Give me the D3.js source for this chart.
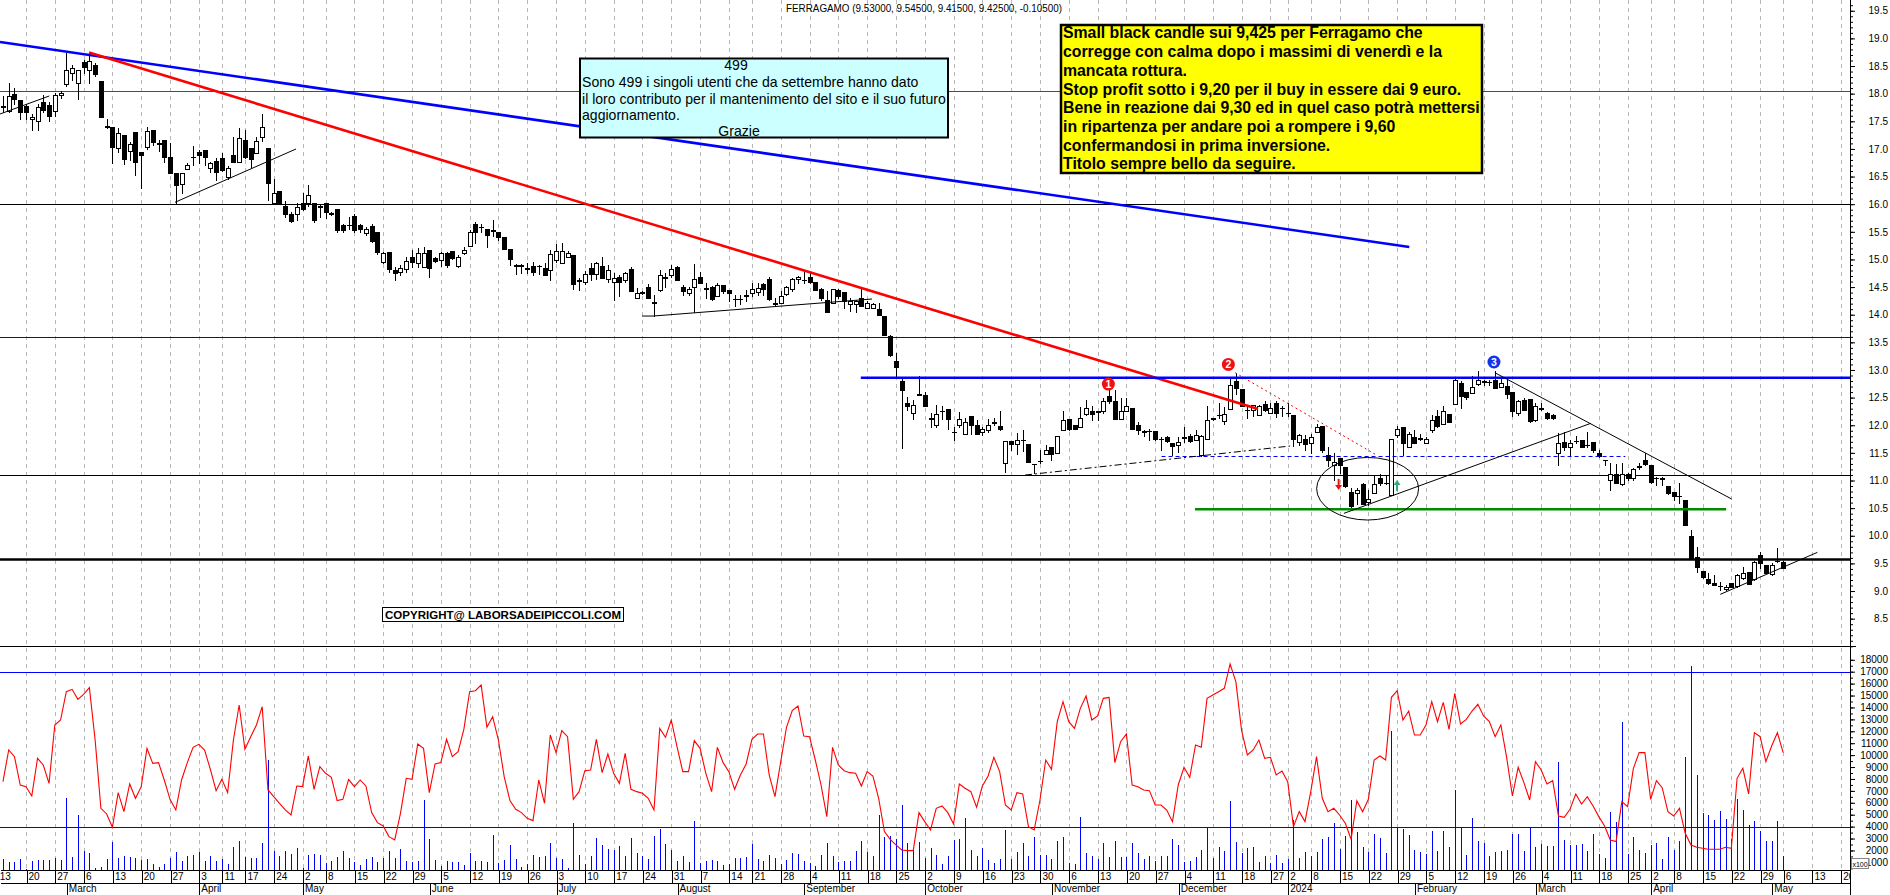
<!DOCTYPE html>
<html>
<head>
<meta charset="utf-8">
<script src="https://cdn.jsdelivr.net/npm/d3@7/dist/d3.min.js"></script>
<style>
html,body{margin:0;padding:0;background:#fff;}
svg{display:block;}
text{font-family:"Liberation Sans",Arial,Helvetica,sans-serif;}
</style>
</head>
<body>
<svg id="chart" width="1890" height="895"></svg>
<script>
// ================= DATA =================
const title = "FERRAGAMO (9.53000, 9.54500, 9.41500, 9.42500, -0.10500)";
const calendarStart = "2023-02-13";           // first calendar day (index -5)
const holidays = ["2023-04-07","2023-04-10","2023-05-01","2023-08-15","2023-12-25","2023-12-26",
                  "2024-01-01","2024-03-29","2024-04-01","2024-05-01"];
const firstCandleIndex = -4;                  // 14 Feb 2023

const opens = [
17.77,17.69,17.99,17.89,17.77,17.54,17.51,17.84,17.79,17.69,
17.98,18.17,18.37,18.20,18.58,18.43,18.52,18.22,17.41,17.39,
17.01,17.26,16.97,17.30,16.94,17.04,17.34,17.11,17.16,16.85,
16.56,16.37,16.63,16.85,16.94,16.98,16.66,16.78,16.84,16.50,
16.89,16.77,17.16,17.01,16.92,17.22,17.01,16.02,16.24,15.97,
15.82,15.82,16.02,16.02,16.02,15.96,16.02,15.84,15.91,15.62,
15.62,15.79,15.62,15.47,15.61,15.49,14.96,15.13,14.81,14.78,
14.82,15.05,14.93,14.87,15.17,15.03,14.99,15.12,15.15,14.88,
15.11,15.25,15.64,15.58,15.55,15.52,15.49,15.40,15.19,14.89,
14.90,14.84,14.89,14.88,14.84,14.80,14.99,14.93,15.04,15.08,
14.61,14.59,14.84,14.74,14.88,14.65,14.60,14.69,14.62,14.82,
14.31,14.40,14.51,14.22,14.45,14.67,14.71,14.87,14.51,14.39,
14.51,14.68,14.47,14.51,14.34,14.53,14.45,14.29,14.28,14.33,
14.39,14.41,14.55,14.65,14.21,14.22,14.37,14.46,14.65,14.63,
14.69,14.60,14.47,14.27,14.22,14.45,14.41,14.19,14.19,14.31,
14.13,14.13,14.10,13.98,13.61,13.16,12.80,12.41,12.22,12.55,
12.55,12.14,12.00,12.25,12.29,11.88,12.00,11.85,12.17,12.00,
11.87,11.92,12.05,11.99,11.32,11.71,11.66,11.73,11.66,11.29,
11.35,11.48,11.61,11.49,11.91,12.12,12.00,11.97,12.20,12.25,
12.24,12.26,12.53,12.44,12.11,12.26,12.31,12.00,11.88,11.90,
11.89,11.75,11.79,11.67,11.65,11.77,11.80,11.74,11.46,11.76,
12.12,12.18,12.08,12.29,12.80,12.65,12.27,12.28,12.19,12.38,
12.23,12.41,12.31,12.22,12.19,11.70,11.75,11.67,11.88,11.99,
11.46,11.28,11.40,11.25,10.79,10.77,10.93,10.62,10.77,11.04,
10.95,10.74,11.82,11.97,11.61,11.79,11.76,11.68,11.91,12.16,
12.03,12.20,12.38,12.76,12.61,12.58,12.74,12.80,12.79,12.82,
12.69,12.71,12.61,12.22,12.46,12.48,12.09,12.30,12.22,12.19,
11.50,11.70,11.61,11.72,11.73,11.64,11.70,11.50,11.37,11.01,
11.12,10.94,11.12,11.04,11.25,11.38,11.28,11.04,11.04,10.90,
10.80,10.72,10.65,10.00,9.61,9.36,9.21,9.15,9.10,9.04,
9.14,9.09,9.23,9.34,9.21,9.65,9.47,9.31,9.54,9.53];

const highs = [
17.96,18.20,18.10,17.89,17.82,17.64,17.82,17.98,17.85,18.01,
18.04,18.73,18.52,18.43,18.61,18.73,18.55,18.22,17.55,17.39,
17.37,17.26,17.13,17.30,16.94,17.39,17.34,17.16,17.16,17.10,
16.56,16.56,16.75,17.05,16.98,16.98,16.77,16.84,16.93,16.69,
17.22,17.37,17.34,17.01,17.22,17.64,17.01,16.45,16.24,16.06,
15.86,16.02,16.20,16.35,16.02,15.99,16.02,15.86,15.91,15.65,
15.77,15.83,15.64,15.59,15.64,15.49,15.14,15.13,14.87,14.90,
15.05,15.17,15.20,15.23,15.17,15.05,15.14,15.14,15.16,15.08,
15.23,15.53,15.67,15.65,15.55,15.71,15.50,15.41,15.19,14.92,
14.92,14.93,14.96,14.90,14.93,15.17,15.28,15.30,15.16,15.08,
14.66,14.79,14.93,14.96,15.05,14.90,14.75,14.72,14.78,14.87,
14.48,14.43,14.55,14.36,14.81,14.75,14.90,14.88,14.54,14.51,
14.91,14.78,14.57,14.52,14.57,14.53,14.45,14.36,14.36,14.45,
14.57,14.57,14.57,14.68,14.31,14.42,14.52,14.66,14.70,14.78,
14.78,14.60,14.48,14.42,14.46,14.46,14.41,14.30,14.27,14.48,
14.25,14.21,14.21,13.98,13.63,13.30,12.83,12.52,12.46,12.89,
12.61,12.22,12.37,12.35,12.29,11.97,12.24,12.13,12.17,12.09,
11.97,12.12,12.14,12.25,11.71,11.71,11.86,11.91,11.66,11.30,
11.55,11.65,11.61,11.81,12.25,12.12,12.00,12.33,12.46,12.35,
12.26,12.49,12.64,12.64,12.49,12.49,12.31,12.05,11.92,11.94,
11.89,11.78,11.80,11.67,11.79,11.96,11.85,11.91,11.82,12.35,
12.14,12.40,12.33,12.83,12.94,12.65,12.33,12.37,12.37,12.43,
12.40,12.43,12.34,12.40,12.19,11.85,11.82,11.85,12.03,11.99,
11.61,11.49,11.40,11.25,10.86,10.86,10.95,10.83,11.10,11.12,
11.10,11.76,11.99,11.97,11.88,11.91,11.85,11.78,12.19,12.28,
12.35,12.20,12.86,12.80,12.61,12.90,12.98,12.82,12.81,12.98,
12.86,12.82,12.61,12.46,12.49,12.48,12.40,12.40,12.24,12.20,
11.86,11.88,11.73,11.81,11.73,11.88,11.70,11.55,11.37,11.31,
11.29,11.32,11.13,11.22,11.31,11.50,11.28,11.07,11.07,10.90,
10.80,10.95,10.65,10.10,9.79,9.37,9.33,9.29,9.17,9.11,
9.15,9.31,9.44,9.34,9.55,9.71,9.47,9.50,9.77,9.545];

const lows = [
17.67,17.67,17.82,17.55,17.55,17.34,17.34,17.67,17.51,17.60,
17.93,18.13,18.25,17.90,18.37,18.19,18.32,17.57,17.37,16.75,
16.95,16.72,16.80,16.52,16.30,16.99,17.07,16.96,16.77,16.56,
16.02,16.21,16.63,16.70,16.74,16.70,16.59,16.43,16.60,16.45,
16.77,16.77,16.83,16.68,16.92,17.15,16.08,16.02,16.02,15.77,
15.68,15.71,15.89,15.96,15.68,15.77,15.75,15.80,15.50,15.50,
15.55,15.50,15.50,15.45,15.32,15.10,14.93,14.78,14.63,14.72,
14.78,14.87,14.87,14.87,14.69,14.96,14.88,14.87,15.00,14.86,
15.10,15.25,15.30,15.50,15.23,15.42,15.36,15.19,14.90,14.74,
14.76,14.76,14.72,14.73,14.71,14.63,14.96,14.93,15.04,14.47,
14.45,14.55,14.63,14.64,14.67,14.60,14.27,14.33,14.60,14.42,
14.31,14.38,14.31,13.98,14.43,14.51,14.69,14.63,14.36,14.36,
14.04,14.57,14.31,14.27,14.33,14.39,14.24,14.15,14.19,14.24,
14.33,14.36,14.36,14.27,14.16,14.21,14.36,14.43,14.57,14.57,
14.57,14.45,14.27,14.04,14.21,14.31,14.12,14.06,14.04,14.15,
14.13,14.13,14.00,13.63,13.25,12.89,11.58,12.27,12.12,12.54,
12.35,11.96,11.97,12.12,11.94,11.73,11.97,11.85,11.85,11.85,
11.82,11.88,12.00,11.92,11.16,11.55,11.48,11.54,11.34,11.13,
11.32,11.48,11.37,11.49,11.91,11.92,11.93,11.97,12.19,12.09,
12.09,12.22,12.40,12.11,12.11,12.25,11.93,11.85,11.80,11.73,
11.73,11.55,11.69,11.46,11.52,11.70,11.70,11.73,11.44,11.76,
12.10,12.14,12.02,12.29,12.56,12.35,12.14,12.16,12.18,12.25,
12.22,12.15,12.17,12.16,11.62,11.64,11.55,11.49,11.88,11.52,
11.26,11.01,11.13,10.88,10.50,10.57,10.57,10.56,10.77,10.92,
10.94,10.74,11.79,11.46,11.61,11.67,11.73,11.68,11.88,11.97,
12.03,12.05,12.38,12.31,12.47,12.58,12.73,12.73,12.73,12.67,
12.69,12.49,12.17,12.19,12.28,12.06,12.08,12.28,12.12,12.12,
11.28,11.56,11.46,11.67,11.60,11.61,11.52,11.43,11.28,10.83,
10.95,10.92,11.01,11.01,11.20,11.28,10.96,10.92,10.92,10.76,
10.65,10.59,10.19,9.59,9.35,9.24,9.13,9.11,9.02,9.01,
9.07,9.08,9.21,9.13,9.20,9.41,9.32,9.29,9.53,9.415];

const closes = [
17.76,17.96,17.91,17.67,17.66,17.57,17.75,17.70,17.60,17.98,
18.02,18.43,18.46,18.43,18.48,18.59,18.35,17.57,17.40,17.03,
17.29,16.81,17.08,16.77,16.89,17.32,17.12,17.09,16.85,16.56,
16.34,16.56,16.70,16.86,16.89,16.85,16.74,16.58,16.62,16.65,
16.77,17.19,16.86,16.82,17.14,17.39,16.38,16.21,16.02,15.83,
15.70,15.94,15.91,16.17,15.72,15.95,15.86,15.83,15.53,15.53,
15.63,15.53,15.55,15.55,15.34,15.14,15.11,14.82,14.75,14.84,
14.98,14.96,15.11,15.11,14.84,14.97,15.12,14.90,15.02,15.04,
15.17,15.50,15.50,15.59,15.45,15.53,15.40,15.19,15.01,14.90,
14.89,14.83,14.78,14.89,14.72,15.10,15.15,15.15,15.11,14.56,
14.62,14.73,14.74,14.93,14.67,14.80,14.66,14.60,14.76,14.43,
14.40,14.41,14.31,14.23,14.71,14.68,14.82,14.63,14.43,14.46,
14.64,14.58,14.48,14.29,14.54,14.43,14.39,14.28,14.29,14.36,
14.47,14.48,14.46,14.28,14.20,14.33,14.51,14.64,14.69,14.62,
14.59,14.45,14.30,14.04,14.46,14.34,14.24,14.24,14.24,14.16,
14.22,14.19,14.00,13.63,13.28,13.06,12.63,12.35,12.37,12.56,
12.35,12.11,12.21,12.26,12.12,11.87,12.11,12.05,12.00,11.85,
11.93,12.00,12.04,11.94,11.71,11.66,11.73,11.74,11.34,11.30,
11.36,11.55,11.48,11.81,12.09,11.94,11.94,12.14,12.32,12.21,
12.25,12.43,12.44,12.11,12.26,12.35,11.93,11.92,11.89,11.89,
11.76,11.76,11.71,11.62,11.70,11.78,11.71,11.82,11.80,12.09,
12.13,12.19,12.20,12.73,12.67,12.35,12.28,12.37,12.35,12.28,
12.31,12.22,12.32,12.23,11.76,11.82,11.66,11.78,11.96,11.55,
11.37,11.34,11.28,10.90,10.53,10.83,10.57,10.66,10.93,10.96,
10.95,11.76,11.94,11.67,11.85,11.68,11.77,11.76,12.09,11.99,
12.25,12.06,12.82,12.53,12.52,12.70,12.82,12.79,12.78,12.67,
12.77,12.57,12.25,12.43,12.28,12.08,12.34,12.31,12.13,12.13,
11.68,11.61,11.67,11.72,11.61,11.64,11.55,11.44,11.37,11.12,
10.95,11.12,11.04,11.20,11.26,11.29,10.98,11.04,11.03,10.77,
10.72,10.72,10.19,9.59,9.44,9.26,9.14,9.11,9.10,9.08,
9.08,9.29,9.32,9.13,9.53,9.50,9.33,9.47,9.55,9.425];

const volumes = [
1287,1064,1064,1287,421,1120,1203,1203,1203,1399,
1203,6432,1455,5006,1958,1819,560,644,1287,2742,
1399,1538,1455,1399,1203,1287,868,644,868,1399,
1902,1148,1538,1622,1902,1148,1538,1148,1287,868,
2294,2797,1455,1399,1399,2658,9591,1986,1538,1958,
1706,2182,560,1622,1706,1595,924,1092,1455,1958,
1343,1064,784,1287,1455,1064,1343,1958,1399,2126,
1120,1008,1092,6237,2965,1203,700,1120,1008,1064,
784,1819,1148,1148,1064,3301,980,1203,2462,1287,
616,840,1622,1455,1538,2658,1399,1287,560,4335,
1622,868,1538,3021,2462,2126,2042,2378,1538,3077,
1763,
1538,1287,3217,3804,2545,2042,1120,1538,1036,4475,
980,1120,1203,1120,756,868,1343,1343,1455,2545,
1287,1120,1595,1343,868,1203,1790,1706,1120,980,
672,1622,2630,1538,1036,1148,1148,1958,2797,1874,
1538,5006,3133,3217,2965,5845,2602,2042,2713,1343,
2210,1622,868,1538,2909,2965,4726,2042,1538,2210,
1203,952,1287,3720,1287,1874,2630,1538,3133,1622,
1622,1287,2797,3133,952,868,4810,1790,1538,1287,
2630,1455,2797,1455,1455,2630,1790,1287,1538,1120,
1538,1538,2965,2462,1036,1120,1455,2042,3888,1371,
2294,1958,6152,2713,1790,2210,
2266,1064,1538,980,1622,980,1287,4559,1343,1874,
1538,1874,2937,3105,4307,2126,3245,6237,3552,2266,
1874,3384,3049,1790,12052,3860,3804,3301,2042,1874,
1706,3636,1958,3636,2294,7075,4000,1622,4726,2797,
2630,1538,1874,1958,2042,3384,3384,1958,4000,2266,
2545,2378,2378,9424,2881,2462,2462,2545,1958,3384,
1706,1371,5229,4391,12807,1706,3133,2042,1790,2462,
2630,1287,3133,2042,2797,9871,17476,8333,5146,5006,
4559,5314,4642,2965,6320,5397,4139,4475,3636,2797,
2797,4475,
1500];

const oscillator = [
7774,10430,9871,7494,7354,6572,9731,9172,7634,12527,
12947,15323,15519,14680,15100,15659,11269,5537,5063,3943,
6851,5258,7578,6376,7354,10570,9312,9368,7914,6292,
5397,7914,9368,10654,10905,10430,8808,7019,7970,6851,
11269,14205,10486,11548,12527,14065,7075,6516,5957,5397,
4978,7410,7354,9927,7131,9032,8473,8137,6180,6292,
7970,7354,7914,7410,5174,4335,4055,3161,2881,5118,
8053,7970,10933,10570,6851,9256,9368,11325,9871,10290,
12164,15323,15407,15882,12331,13226,11269,8193,6180,5453,
5174,4698,4503,7914,5957,11688,10206,12052,11548,6292,
6935,8697,8753,11325,8529,10095,8473,7634,10150,7131,
6935,6795,6376,5397,12248,11493,12947,10710,8613,8613,
11213,10570,8473,6935,10654,9368,8613,7131,8333,9256,
11325,11772,11772,8333,6516,9451,12331,13729,14121,11604,
11548,9591,7494,4839,10654,9172,8697,8529,8473,7410,
8613,8249,6376,3580,2937,2462,2042,1986,1986,5174,
4419,3720,5537,5733,5174,4223,7578,7215,6935,5621,
7410,8249,9815,8613,5817,5397,6851,6739,4000,3720,
6236,9591,8808,12807,14484,12807,12248,13925,14960,12947,
13282,14764,14848,9368,11129,11772,7494,7354,7075,7019,
5817,5817,5397,4419,7494,8976,8137,10850,10654,14764,
15044,15323,15603,17644,16162,12052,10011,10430,11269,9731,
9815,8333,8669,7774,4000,5258,4419,6935,9871,6376,
5258,5537,4978,4279,2937,6180,5258,6292,9591,9927,
9591,14848,15407,12947,13701,11688,11688,12527,14484,12807,
14428,12164,15184,12611,13003,13701,14261,13282,12807,11548,
12527,9815,6572,8976,7690,6236,9451,8753,7578,7858,
4895,4782,5453,6739,5901,6516,5733,4839,4055,2881,
2741,6096,5677,8892,10206,10206,6292,7858,7271,5258,
4895,5537,3440,2462,2266,2182,2098,2098,2098,2266,
2182,8053,8892,6739,11884,11548,9451,10766,11884,10206];

const priceTicks = [8.5,9,9.5,10,10.5,11,11.5,12,12.5,13,13.5,14,14.5,15,15.5,16,16.5,17,17.5,18,18.5,19,19.5];
const volumeTicks = [1000,2000,3000,4000,5000,6000,7000,8000,9000,10000,11000,12000,13000,14000,15000,16000,17000,18000];
const monthNames = ["January","February","March","April","May","June","July","August","September","October","November","December"];

// horizontal levels (price) spanning the full width
const redLevel = 18.05, blackLevelTop = 16.0, blueLevelThin = 13.6, blackLevelMid = 11.1, blackLevelThick = 9.58;
// partial horizontal levels: [fromIndex, toIndex, price]
const blueResistance = [144.9, 316.6, 12.86];
const greenSupport = [202.9, 295.1, 10.48];
const blueDashed = [197.1, 277.6, 11.45];
// volume-panel levels
const volumeLevels = [17000, 4000];
// trendlines as [index, price] pairs
const blueTrend = [[-4.51, 18.935], [240.1, 15.225]];
const redTrend = [[10.94, 18.745], [213.85, 12.294]];
const redDotted = [[209.86, 12.95], [234.42, 11.461]];
const blackLines = [
  [[-4.51, 17.632], [4.04, 17.958]],
  [[25.86, 16.034], [46.87, 16.999]],
  [[106.93, 13.976], [108.84, 13.976], [146.85, 14.284]],
  [[228.76, 10.406], [271.62, 12.035]],
  [[254.97, 12.95], [296.06, 10.665]],
  [[294.08, 8.94], [310.94, 9.70]]
];
const dashDotLine = [[173.41, 11.099], [219.41, 11.624]];
const ellipseCenter = [232.87, 10.851];
const ellipseHalfSpan = [8.85, 0.566];      // in index units / price units
const markers = [
  {label: "1", i: 187.87, p: 12.745, color: "#ee1111"},
  {label: "2", i: 208.7,  p: 13.10,  color: "#ee1111"},
  {label: "3", i: 254.8,  p: 13.144, color: "#1133ee"}
];
const arrows = [
  {dir: "down", i: 227.84, p: 10.92, color: "#ee1111"},
  {dir: "up",   i: 237.98, p: 10.92, color: "#33aa77"}
];

const cyanLines = ["Sono 499 i singoli utenti che da settembre hanno dato",
                   "il loro contributo per il mantenimento del sito e il suo futuro",
                   "aggiornamento."];
const cyanTitle = "499", cyanFooter = "Grazie";
const yellowLines = ["Small black candle sui 9,425 per Ferragamo che",
  "corregge con calma dopo i massimi di venerdì e la",
  "mancata rottura.",
  "Stop profit sotto i 9,20 per il buy in essere dai 9 euro.",
  "Bene in reazione dai 9,30 ed in quel caso potrà mettersi",
  "in ripartenza per andare poi a rompere i 9,60",
  "confermandosi in prima inversione.",
  "Titolo sempre bello da seguire."];
const copyrightText = "COPYRIGHT@ LABORSADEIPICCOLI.COM";

// ================= LAYOUT =================
const AXIS_X = 1850;
const SEP_Y = 646;
const XAXIS_Y = 870;
const svg = d3.select("#chart");

const x = d3.scaleLinear().domain([-4.513, 316.6]).range([0, AXIS_X]);
const yP = d3.scaleLinear().domain([8, 19.7]).range([646.3, -0.3]);
const yV = d3.scaleLinear().domain([0, 17000]).range([874.3, 671.7]);

// calendar of trading days
const hol = new Set(holidays);
const days = [];
{
  const d = new Date(calendarStart + "T00:00:00Z");
  while (days.length < 325) {
    const wd = d.getUTCDay(), s = d.toISOString().slice(0, 10);
    if (wd !== 0 && wd !== 6 && !hol.has(s)) days.push(new Date(d));
    d.setUTCDate(d.getUTCDate() + 1);
  }
}
const OFF = 5; // days[k] has index k-5
const weekTicks = [], monthTicks = [];
days.forEach((d, k) => {
  if (k === 0 || d.getUTCDay() < days[k - 1].getUTCDay()) weekTicks.push(k - OFF);
  if (k > 0 && d.getUTCMonth() !== days[k - 1].getUTCMonth()) monthTicks.push(k - OFF);
});
const dayOf = i => days[i + OFF];

const candles = opens.map((o, j) => ({i: j + firstCandleIndex, o, h: highs[j], l: lows[j], c: closes[j]}));

const defs = svg.append("defs");
defs.append("clipPath").attr("id", "clipPrice").append("rect").attr("x", 0).attr("y", 0).attr("width", AXIS_X).attr("height", SEP_Y);
defs.append("clipPath").attr("id", "clipVol").append("rect").attr("x", 0).attr("y", SEP_Y).attr("width", AXIS_X).attr("height", XAXIS_Y - SEP_Y);
defs.append("clipPath").attr("id", "clipPlot").append("rect").attr("x", 0).attr("y", 0).attr("width", AXIS_X).attr("height", 895);

svg.append("rect").attr("width", 1890).attr("height", 895).attr("fill", "#fff");

const px = i => Math.round(x(i)) + 0.5;

// ---- vertical gridlines
svg.append("g").attr("clip-path", "url(#clipPlot)")
  .selectAll("line").data(weekTicks).join("line")
  .attr("x1", px).attr("x2", px).attr("y1", 0).attr("y2", XAXIS_Y)
  .attr("stroke", "#b8b8b8").attr("stroke-width", 1).attr("stroke-dasharray", "4,4")
  .attr("shape-rendering", "crispEdges");

// ---- price panel
const gP = svg.append("g").attr("clip-path", "url(#clipPrice)");
const hFull = [
  {p: redLevel, c: "#ff0000", w: 1},
  {p: blackLevelTop, c: "#000", w: 1},
  {p: blueLevelThin, c: "#0000ff", w: 1},
  {p: blackLevelMid, c: "#000", w: 1},
  {p: blackLevelThick, c: "#000", w: 2.5}
];
gP.selectAll("line.hl").data(hFull).join("line").attr("class", "hl")
  .attr("x1", 0).attr("x2", AXIS_X).attr("y1", d => Math.round(yP(d.p)) + 0.5).attr("y2", d => Math.round(yP(d.p)) + 0.5)
  .attr("stroke", d => d.c).attr("stroke-width", d => d.w);

// candles
const gC = gP.append("g").attr("shape-rendering", "crispEdges");
gC.selectAll("line.wick").data(candles).join("line").attr("class", "wick")
  .attr("x1", d => px(d.i)).attr("x2", d => px(d.i))
  .attr("y1", d => Math.round(yP(d.h))).attr("y2", d => Math.round(yP(d.l)) + 1)
  .attr("stroke", "#000").attr("stroke-width", 1);
gC.selectAll("rect.body").data(candles).join("rect").attr("class", "body")
  .each(function (d) {
    const top = Math.round(yP(Math.max(d.o, d.c)));
    const bot = Math.round(yP(Math.min(d.o, d.c)));
    const cx = Math.round(x(d.i));
    const sel = d3.select(this);
    if (bot - top < 2) {
      sel.attr("x", cx - 2).attr("y", top).attr("width", 5).attr("height", Math.max(1, bot - top + 1))
        .attr("fill", "#000");
    } else if (d.c >= d.o) {
      sel.attr("x", cx - 1.5).attr("y", top + 0.5).attr("width", 4).attr("height", bot - top)
        .attr("fill", "#fff").attr("stroke", "#000").attr("stroke-width", 1);
    } else {
      sel.attr("x", cx - 2).attr("y", top).attr("width", 5).attr("height", bot - top + 1).attr("fill", "#000");
    }
  });

// drawing objects
const line = d3.line().x(d => x(d[0])).y(d => yP(d[1]));
gP.append("path").datum(blueTrend).attr("d", line).attr("stroke", "#0000ff").attr("stroke-width", 2.6).attr("fill", "none");
gP.append("path").datum(redTrend).attr("d", line).attr("stroke", "#ff0000").attr("stroke-width", 2.6).attr("fill", "none");
gP.append("path").datum(redDotted).attr("d", line).attr("stroke", "#ff0000").attr("stroke-width", 1).attr("stroke-dasharray", "2,3").attr("fill", "none");
gP.append("line").attr("x1", x(blueResistance[0])).attr("x2", x(blueResistance[1]))
  .attr("y1", yP(blueResistance[2])).attr("y2", yP(blueResistance[2])).attr("stroke", "#0000ff").attr("stroke-width", 2.6);
gP.append("line").attr("x1", x(greenSupport[0])).attr("x2", x(greenSupport[1]))
  .attr("y1", yP(greenSupport[2])).attr("y2", yP(greenSupport[2])).attr("stroke", "#008c00").attr("stroke-width", 2.6);
gP.append("line").attr("x1", x(blueDashed[0])).attr("x2", x(blueDashed[1]))
  .attr("y1", Math.round(yP(blueDashed[2])) + 0.5).attr("y2", Math.round(yP(blueDashed[2])) + 0.5)
  .attr("stroke", "#0000ff").attr("stroke-width", 1).attr("stroke-dasharray", "4,3");
gP.selectAll("path.bl").data(blackLines).join("path").attr("class", "bl").attr("d", line)
  .attr("stroke", "#000").attr("stroke-width", 1).attr("fill", "none");
gP.append("path").datum(dashDotLine).attr("d", line).attr("stroke", "#000").attr("stroke-width", 1)
  .attr("stroke-dasharray", "7,3,2,3").attr("fill", "none");
gP.append("ellipse").attr("cx", x(ellipseCenter[0])).attr("cy", yP(ellipseCenter[1]))
  .attr("rx", x(ellipseCenter[0] + ellipseHalfSpan[0]) - x(ellipseCenter[0]))
  .attr("ry", yP(ellipseCenter[1] - ellipseHalfSpan[1]) - yP(ellipseCenter[1]))
  .attr("fill", "none").attr("stroke", "#000").attr("stroke-width", 1);

// markers
const gM = svg.append("g");
markers.forEach(m => {
  gM.append("circle").attr("cx", x(m.i)).attr("cy", yP(m.p)).attr("r", 6.5).attr("fill", m.color);
  gM.append("text").attr("x", x(m.i)).attr("y", yP(m.p) + 3.8).attr("text-anchor", "middle")
    .attr("font-size", 10.5).attr("font-weight", "bold").attr("fill", "#fff").text(m.label);
});
arrows.forEach(a => {
  const cx = x(a.i), cy = yP(a.p);
  const s = a.dir === "down" ? 1 : -1;
  gM.append("line").attr("x1", cx).attr("x2", cx).attr("y1", cy - 6 * s).attr("y2", cy + 1 * s)
    .attr("stroke", a.color).attr("stroke-width", 2);
  gM.append("path").attr("d", `M${cx - 3.5},${cy}L${cx + 3.5},${cy}L${cx},${cy + 5 * s}Z`).attr("fill", a.color);
});

// ---- volume panel
const gV = svg.append("g").attr("clip-path", "url(#clipVol)");
gV.selectAll("line.vl").data(volumeLevels).join("line").attr("class", "vl")
  .attr("x1", 0).attr("x2", AXIS_X).attr("y1", d => Math.round(yV(d)) + 0.5).attr("y2", d => Math.round(yV(d)) + 0.5)
  .attr("stroke", "#0000ff").attr("stroke-width", 1);
gV.selectAll("line.vol").data(volumes).join("line").attr("class", "vol")
  .attr("x1", (d, j) => px(j + firstCandleIndex)).attr("x2", (d, j) => px(j + firstCandleIndex))
  .attr("y1", d => yV(d)).attr("y2", yV(0))
  .attr("stroke", "#0000ff").attr("stroke-width", 1).attr("shape-rendering", "crispEdges");
gV.append("path").datum(oscillator)
  .attr("d", d3.line().x((d, j) => x(j + firstCandleIndex)).y(d => yV(d)))
  .attr("fill", "none").attr("stroke", "#ff0000").attr("stroke-width", 1.1);

// ---- separators and frame lines
svg.append("line").attr("x1", 0).attr("x2", AXIS_X + 6).attr("y1", SEP_Y + 0.5).attr("y2", SEP_Y + 0.5).attr("stroke", "#000");
svg.append("line").attr("x1", AXIS_X + 0.5).attr("x2", AXIS_X + 0.5).attr("y1", 0).attr("y2", 895).attr("stroke", "#000");

// ---- right axes
const gAxP = svg.append("g").attr("transform", `translate(${AXIS_X},0)`);
gAxP.call(d3.axisRight(yP).tickValues(d3.range(80, 197).map(v => v / 10)).tickSize(3).tickFormat(""));
gAxP.append("g").call(d3.axisRight(yP).tickValues(priceTicks).tickSize(5).tickFormat(d3.format(".1f")));
gAxP.selectAll(".domain").remove();
gAxP.selectAll("text").attr("x", 38).attr("text-anchor", "end").attr("font-size", 10)
  .attr("font-family", '"Liberation Sans",Arial,sans-serif').attr("fill", "#000");
gAxP.selectAll("line").attr("stroke", "#000");

const gAxV = svg.append("g").attr("transform", `translate(${AXIS_X},0)`);
gAxV.call(d3.axisRight(yV).tickValues(d3.range(500, 18500, 500)).tickSize(3).tickFormat(""));
gAxV.append("g").call(d3.axisRight(yV).tickValues(volumeTicks).tickSize(5).tickFormat(d => String(d)));
gAxV.selectAll(".domain").remove();
gAxV.selectAll("text").attr("x", 38).attr("text-anchor", "end").attr("font-size", 10)
  .attr("font-family", '"Liberation Sans",Arial,sans-serif').attr("fill", "#000");
gAxV.selectAll("line").attr("stroke", "#000");
// x100 multiplier box
svg.append("rect").attr("x", 1851.5).attr("y", 858.5).attr("width", 17).attr("height", 10)
  .attr("fill", "#fff").attr("stroke", "#888").attr("stroke-width", 1);
svg.append("text").attr("x", 1860).attr("y", 866.5).attr("text-anchor", "middle").attr("font-size", 7).text("x100");

// ---- bottom date axes
const gX = svg.append("g").attr("clip-path", "url(#clipPlot)");
const dayAxis = gX.append("g").attr("transform", `translate(0,${XAXIS_Y})`)
  .call(d3.axisBottom(x).tickValues(weekTicks).tickSize(13).tickSizeOuter(0).tickFormat(i => dayOf(i).getUTCDate()));
dayAxis.selectAll("text").attr("x", 2).attr("y", 2.5).attr("dy", "0.71em").attr("text-anchor", "start")
  .attr("font-size", 10).attr("font-family", '"Liberation Sans",Arial,sans-serif').attr("fill", "#000");
const monAxis = gX.append("g").attr("transform", `translate(0,${XAXIS_Y + 13})`)
  .call(d3.axisBottom(x).tickValues(monthTicks).tickSize(12).tickSizeOuter(0)
    .tickFormat(i => { const d = dayOf(i); return d.getUTCMonth() === 0 ? String(d.getUTCFullYear()) : monthNames[d.getUTCMonth()]; }));
monAxis.selectAll("text").attr("x", 2).attr("y", 2).attr("dy", "0.71em").attr("text-anchor", "start")
  .attr("font-size", 10).attr("font-family", '"Liberation Sans",Arial,sans-serif').attr("fill", "#000");
[dayAxis, monAxis].forEach(a => {
  a.selectAll("line, path").attr("stroke", "#000").attr("shape-rendering", "crispEdges");
  a.selectAll(".tick line").attr("transform", "translate(0.5,0)");
});

// ---- title
const tt = svg.append("text").attr("x", 786).attr("y", 12).attr("font-size", 10).text(title);
tt.attr("textLength", 276).attr("lengthAdjust", "spacingAndGlyphs");

// ---- cyan note box
const gCy = svg.append("g");
gCy.append("rect").attr("x", 580).attr("y", 58.5).attr("width", 368).attr("height", 79)
  .attr("fill", "#ccffff").attr("stroke", "#000").attr("stroke-width", 2);
const cyT = gCy.append("g");
const cyBody = cyT.selectAll("text.cl").data(cyanLines).join("text").attr("class", "cl")
  .attr("x", 0).attr("y", (d, k) => 87.3 + k * 16.6).attr("font-size", 14).text(d => d);
const cySx = 364 / cyBody.nodes()[1].getComputedTextLength();
cyT.attr("transform", `translate(582,0) scale(${cySx},1)`);
cyT.append("text").attr("x", (736 - 582) / cySx).attr("y", 70).attr("text-anchor", "middle").attr("font-size", 14).text(cyanTitle);
cyT.append("text").attr("x", (739 - 582) / cySx).attr("y", 136).attr("text-anchor", "middle").attr("font-size", 14).text(cyanFooter);

// ---- yellow note box
const gY = svg.append("g");
gY.append("rect").attr("x", 1061).attr("y", 25).attr("width", 421).attr("height", 148)
  .attr("fill", "#ffff00").attr("stroke", "#000").attr("stroke-width", 2.5);
const yT = gY.append("g");
const yBody = yT.selectAll("text").data(yellowLines).join("text")
  .attr("x", 0).attr("y", (d, k) => 38.5 + k * 18.7).attr("font-size", 16).attr("font-weight", "bold").text(d => d);
const ySx = 417 / yBody.nodes()[4].getComputedTextLength();
yT.attr("transform", `translate(1063,0) scale(${ySx},1)`);

// ---- copyright
const gCp = svg.append("g");
gCp.append("rect").attr("x", 382.5).attr("y", 607.5).attr("width", 241).attr("height", 14)
  .attr("fill", "#fff").attr("stroke", "#000").attr("stroke-width", 1);
gCp.append("text").attr("x", 385).attr("y", 618.5).attr("font-size", 10).attr("font-weight", "bold")
  .attr("textLength", 236).attr("lengthAdjust", "spacingAndGlyphs").text(copyrightText);
</script>
</body>
</html>
